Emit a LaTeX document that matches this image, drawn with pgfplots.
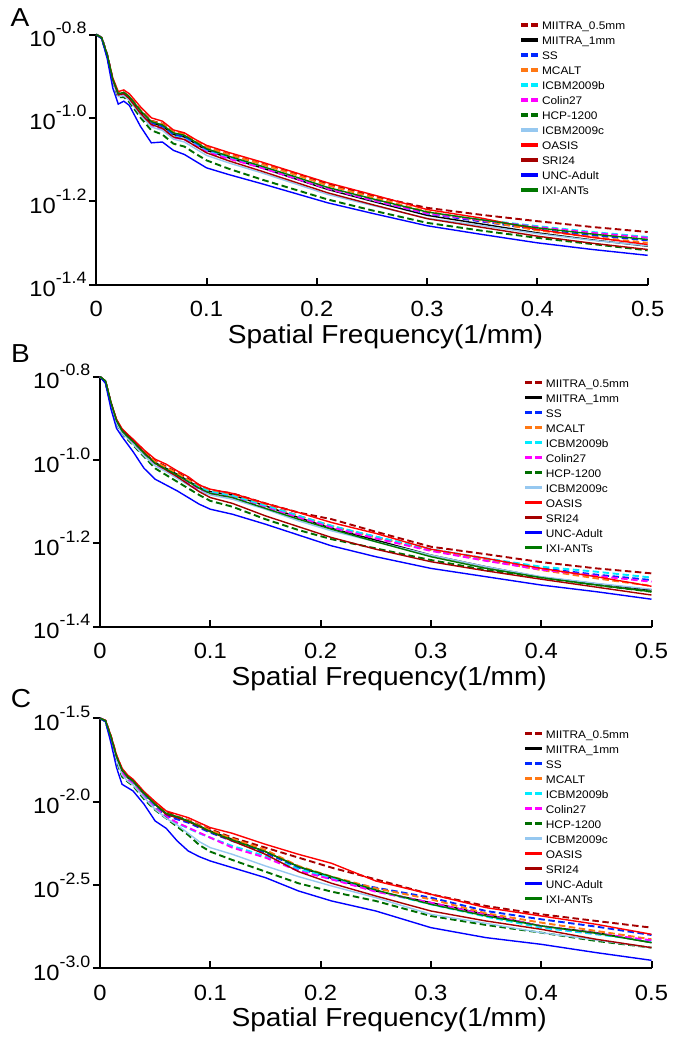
\documentclass[border=0pt]{standalone}
\usepackage{fontspec}
\setmainfont{Liberation Sans}[FakeStretch=1.08]
\usepackage{pgfplots}
\usepackage{pgfplotstable}
\pgfplotsset{compat=1.18}

\definecolor{cMa}{RGB}{165,0,0}
\definecolor{cSS}{RGB}{0,40,255}
\definecolor{cMC}{RGB}{255,120,20}
\definecolor{cCy}{RGB}{0,235,255}
\definecolor{cMg}{RGB}{255,0,255}
\definecolor{cHC}{RGB}{0,110,0}
\definecolor{cIc}{RGB}{150,200,240}
\definecolor{cOA}{RGB}{255,0,0}
\definecolor{cSR}{RGB}{165,0,0}
\definecolor{cUN}{RGB}{0,0,255}
\definecolor{cIX}{RGB}{0,120,0}

\newcommand{\tenp}[1]{10\raisebox{13pt}{\fontsize{16.5pt}{16.5pt}\selectfont #1}}

% columns: x, MIITRA_0.5mm, MIITRA_1mm, SS, MCALT, ICBM2009b, Colin27, HCP-1200, ICBM2009c, OASIS, SRI24, UNC-Adult, IXI-ANTs (log10 of the value)
\pgfplotstableread{
x     MA     M1     SS     MC     Cb     Co     HC     Ic     OA     SR     UN     IX
0     -0.800 -0.800 -0.800 -0.800 -0.800 -0.800 -0.800 -0.800 -0.800 -0.800 -0.800 -0.800
0.005 -0.808 -0.808 -0.808 -0.808 -0.808 -0.808 -0.808 -0.808 -0.808 -0.808 -0.810 -0.808
0.01  -0.850 -0.850 -0.850 -0.850 -0.850 -0.850 -0.852 -0.852 -0.848 -0.850 -0.858 -0.848
0.015 -0.909 -0.910 -0.910 -0.908 -0.910 -0.910 -0.914 -0.914 -0.904 -0.909 -0.928 -0.907
0.02  -0.942 -0.945 -0.945 -0.943 -0.947 -0.947 -0.951 -0.949 -0.937 -0.945 -0.967 -0.942
0.025 -0.939 -0.942 -0.942 -0.940 -0.945 -0.945 -0.950 -0.947 -0.933 -0.942 -0.960 -0.939
0.03  -0.949 -0.952 -0.952 -0.950 -0.955 -0.956 -0.962 -0.958 -0.942 -0.954 -0.970 -0.949
0.04  -0.981 -0.985 -0.985 -0.982 -0.989 -0.990 -0.999 -0.993 -0.973 -0.989 -1.020 -0.982
0.05  -1.007 -1.012 -1.012 -1.008 -1.017 -1.018 -1.030 -1.022 -1.000 -1.016 -1.060 -1.009
0.06  -1.014 -1.020 -1.020 -1.015 -1.025 -1.027 -1.040 -1.030 -1.008 -1.025 -1.058 -1.017
0.07  -1.034 -1.040 -1.040 -1.034 -1.045 -1.047 -1.062 -1.051 -1.029 -1.046 -1.078 -1.036
0.08  -1.039 -1.046 -1.045 -1.039 -1.050 -1.052 -1.069 -1.058 -1.036 -1.052 -1.088 -1.042
0.09  -1.055 -1.062 -1.061 -1.054 -1.065 -1.067 -1.086 -1.074 -1.052 -1.068 -1.104 -1.058
0.1   -1.070 -1.078 -1.076 -1.070 -1.080 -1.082 -1.102 -1.090 -1.066 -1.084 -1.120 -1.074
0.12  -1.087 -1.096 -1.094 -1.088 -1.096 -1.098 -1.122 -1.108 -1.083 -1.103 -1.136 -1.092
0.15  -1.110 -1.120 -1.118 -1.111 -1.119 -1.120 -1.148 -1.132 -1.106 -1.128 -1.158 -1.116
0.18  -1.134 -1.146 -1.144 -1.136 -1.144 -1.145 -1.172 -1.158 -1.131 -1.154 -1.181 -1.141
0.21  -1.159 -1.172 -1.169 -1.162 -1.169 -1.170 -1.196 -1.184 -1.156 -1.180 -1.204 -1.167
0.25  -1.187 -1.200 -1.197 -1.190 -1.197 -1.197 -1.222 -1.210 -1.184 -1.208 -1.229 -1.194
0.3   -1.216 -1.234 -1.230 -1.225 -1.229 -1.229 -1.252 -1.241 -1.220 -1.242 -1.259 -1.226
0.35  -1.233 -1.255 -1.249 -1.247 -1.245 -1.246 -1.271 -1.259 -1.241 -1.263 -1.280 -1.245
0.4   -1.248 -1.276 -1.268 -1.270 -1.260 -1.262 -1.288 -1.278 -1.268 -1.284 -1.300 -1.264
0.45  -1.262 -1.293 -1.282 -1.286 -1.274 -1.276 -1.303 -1.294 -1.287 -1.301 -1.316 -1.279
0.5   -1.274 -1.308 -1.294 -1.300 -1.286 -1.288 -1.318 -1.307 -1.304 -1.316 -1.330 -1.292
}\tA

\pgfplotstableread{
x     MA     M1     SS     MC     Cb     Co     HC     Ic     OA     SR     UN     IX
0     -0.800 -0.800 -0.800 -0.800 -0.800 -0.800 -0.800 -0.800 -0.800 -0.800 -0.800 -0.800
0.005 -0.812 -0.812 -0.812 -0.812 -0.812 -0.812 -0.812 -0.812 -0.812 -0.810 -0.816 -0.810
0.01  -0.866 -0.866 -0.866 -0.866 -0.866 -0.866 -0.868 -0.868 -0.862 -0.862 -0.878 -0.862
0.015 -0.906 -0.908 -0.908 -0.908 -0.908 -0.908 -0.912 -0.912 -0.902 -0.904 -0.924 -0.906
0.02  -0.928 -0.930 -0.931 -0.930 -0.932 -0.932 -0.936 -0.936 -0.925 -0.928 -0.944 -0.930
0.025 -0.940 -0.942 -0.944 -0.942 -0.945 -0.946 -0.950 -0.948 -0.938 -0.940 -0.962 -0.944
0.03  -0.952 -0.955 -0.957 -0.955 -0.958 -0.960 -0.964 -0.962 -0.950 -0.954 -0.980 -0.956
0.04  -0.978 -0.982 -0.984 -0.981 -0.986 -0.988 -0.992 -0.990 -0.976 -0.982 -1.020 -0.984
0.05  -1.002 -1.006 -1.008 -1.004 -1.010 -1.012 -1.020 -1.014 -0.998 -1.008 -1.046 -1.008
0.06  -1.016 -1.020 -1.022 -1.018 -1.024 -1.026 -1.036 -1.028 -1.010 -1.024 -1.060 -1.022
0.07  -1.030 -1.034 -1.036 -1.032 -1.038 -1.040 -1.052 -1.044 -1.026 -1.040 -1.074 -1.036
0.08  -1.045 -1.050 -1.050 -1.048 -1.052 -1.056 -1.068 -1.060 -1.040 -1.058 -1.090 -1.052
0.09  -1.060 -1.066 -1.064 -1.064 -1.066 -1.070 -1.084 -1.074 -1.060 -1.076 -1.106 -1.068
0.1   -1.072 -1.076 -1.074 -1.074 -1.076 -1.080 -1.098 -1.084 -1.070 -1.090 -1.118 -1.080
0.12  -1.080 -1.084 -1.084 -1.084 -1.086 -1.090 -1.112 -1.094 -1.080 -1.104 -1.130 -1.090
0.15  -1.104 -1.110 -1.108 -1.108 -1.110 -1.114 -1.142 -1.118 -1.104 -1.134 -1.154 -1.116
0.18  -1.126 -1.138 -1.134 -1.134 -1.134 -1.138 -1.168 -1.146 -1.126 -1.160 -1.180 -1.142
0.21  -1.142 -1.164 -1.160 -1.158 -1.158 -1.162 -1.190 -1.170 -1.150 -1.186 -1.206 -1.166
0.25  -1.172 -1.192 -1.184 -1.186 -1.184 -1.188 -1.212 -1.196 -1.176 -1.214 -1.232 -1.196
0.3   -1.208 -1.228 -1.216 -1.216 -1.214 -1.218 -1.240 -1.228 -1.214 -1.244 -1.260 -1.232
0.35  -1.226 -1.256 -1.240 -1.240 -1.236 -1.242 -1.264 -1.256 -1.236 -1.266 -1.280 -1.260
0.4   -1.245 -1.281 -1.260 -1.264 -1.256 -1.263 -1.282 -1.280 -1.260 -1.286 -1.300 -1.282
0.45  -1.260 -1.297 -1.275 -1.284 -1.268 -1.278 -1.300 -1.296 -1.280 -1.305 -1.316 -1.300
0.5   -1.272 -1.312 -1.288 -1.302 -1.282 -1.292 -1.316 -1.310 -1.303 -1.324 -1.334 -1.316
}\tB

\pgfplotstableread{
x     MA     M1     SS     MC     Cb     Co     HC     Ic     OA     SR     UN     IX
0     -1.500 -1.500 -1.500 -1.500 -1.500 -1.500 -1.500 -1.500 -1.500 -1.500 -1.500 -1.500
0.005 -1.516 -1.516 -1.516 -1.516 -1.516 -1.516 -1.518 -1.518 -1.512 -1.514 -1.520 -1.514
0.01  -1.610 -1.616 -1.616 -1.612 -1.620 -1.620 -1.626 -1.624 -1.606 -1.612 -1.650 -1.612
0.015 -1.726 -1.736 -1.736 -1.730 -1.744 -1.744 -1.756 -1.750 -1.720 -1.730 -1.796 -1.730
0.02  -1.806 -1.816 -1.816 -1.810 -1.830 -1.830 -1.850 -1.840 -1.800 -1.810 -1.896 -1.810
0.025 -1.846 -1.856 -1.856 -1.850 -1.870 -1.870 -1.880 -1.876 -1.840 -1.850 -1.916 -1.850
0.03  -1.870 -1.880 -1.885 -1.876 -1.896 -1.896 -1.905 -1.900 -1.866 -1.876 -1.936 -1.876
0.04  -1.946 -1.956 -1.960 -1.950 -1.970 -1.972 -1.985 -1.976 -1.940 -1.950 -2.016 -1.950
0.05  -2.006 -2.016 -2.030 -2.012 -2.036 -2.040 -2.050 -2.046 -2.000 -2.016 -2.116 -2.016
0.06  -2.060 -2.076 -2.086 -2.070 -2.096 -2.090 -2.100 -2.100 -2.056 -2.076 -2.160 -2.070
0.07  -2.090 -2.096 -2.106 -2.092 -2.130 -2.126 -2.150 -2.140 -2.076 -2.096 -2.236 -2.090
0.08  -2.110 -2.116 -2.126 -2.112 -2.160 -2.156 -2.200 -2.190 -2.096 -2.120 -2.296 -2.116
0.09  -2.140 -2.146 -2.156 -2.142 -2.190 -2.186 -2.260 -2.240 -2.126 -2.150 -2.330 -2.146
0.1   -2.166 -2.176 -2.186 -2.172 -2.216 -2.216 -2.300 -2.276 -2.156 -2.180 -2.356 -2.180
0.12  -2.216 -2.226 -2.236 -2.222 -2.266 -2.276 -2.350 -2.316 -2.190 -2.236 -2.396 -2.230
0.15  -2.276 -2.300 -2.306 -2.290 -2.326 -2.336 -2.420 -2.386 -2.256 -2.316 -2.456 -2.300
0.18  -2.336 -2.390 -2.396 -2.386 -2.406 -2.416 -2.490 -2.450 -2.316 -2.420 -2.536 -2.390
0.21  -2.396 -2.460 -2.466 -2.450 -2.456 -2.466 -2.540 -2.506 -2.370 -2.490 -2.596 -2.450
0.25  -2.466 -2.536 -2.516 -2.520 -2.536 -2.540 -2.596 -2.576 -2.476 -2.566 -2.656 -2.530
0.3   -2.556 -2.606 -2.576 -2.586 -2.616 -2.606 -2.686 -2.676 -2.556 -2.656 -2.756 -2.616
0.35  -2.626 -2.676 -2.656 -2.670 -2.690 -2.680 -2.740 -2.730 -2.636 -2.716 -2.816 -2.686
0.4   -2.676 -2.746 -2.706 -2.726 -2.756 -2.746 -2.786 -2.786 -2.686 -2.766 -2.856 -2.746
0.45  -2.716 -2.786 -2.750 -2.776 -2.796 -2.790 -2.836 -2.830 -2.736 -2.826 -2.906 -2.790
0.5   -2.756 -2.846 -2.800 -2.826 -2.836 -2.832 -2.876 -2.876 -2.796 -2.876 -2.952 -2.846
}\tC

\tikzset{letter/.style={font=\fontsize{26pt}{26pt}\selectfont, anchor=center}}

\pgfplotsset{
  dsh/.style={line width=1.9pt, dash pattern=on 6.5pt off 3.5pt},
  sld/.style={line width=1.4pt},
  panel/.style={
    scale only axis, width=551.5pt, height=250pt,
    xmin=0, xmax=0.5, clip=false,
    axis x line*=bottom, axis y line*=left,
    xtick={0,0.1,0.2,0.3,0.4,0.5},
    xticklabels={0,0.1,0.2,0.3,0.4,0.5},
    xtick align=inside, ytick align=outside,
    major tick length=7pt,
    axis line style={line width=2pt},
    major tick style={line width=2pt, black},
    tick label style={font=\fontsize{22pt}{22pt}\selectfont},
    xticklabel style={anchor=base, yshift=-32pt},
    yticklabel style={inner sep=2.5pt},
    xlabel={Spatial Frequency(1/mm)},
    xlabel style={font=\fontsize{26pt}{26pt}\selectfont, at={(axis description cs:0.5245,0)}, anchor=base, yshift=-58.5pt},
    legend cell align=left,
    legend style={draw=none, fill=none, inner sep=0pt, outer sep=0pt, anchor=north west,
      font=\fontsize{11pt}{11pt}\selectfont, row sep=0pt, column sep=2pt,
      nodes={inner sep=0pt, text height=8.5pt, text depth=6.5pt}},
    legend image code/.code={\draw[##1, line width=3.3pt] (0pt,3.5pt) -- (17pt,3.5pt);},
  },
}

\newcommand{\plotall}[1]{%
  \addplot[cMa, dsh] table[x=x, y=MA] {#1}; \addlegendentry{MIITRA\_0.5mm}
  \addplot[black, sld] table[x=x, y=M1] {#1}; \addlegendentry{MIITRA\_1mm}
  \addplot[cSS, dsh] table[x=x, y=SS] {#1}; \addlegendentry{SS}
  \addplot[cMC, dsh] table[x=x, y=MC] {#1}; \addlegendentry{MCALT}
  \addplot[cCy, dsh] table[x=x, y=Cb] {#1}; \addlegendentry{ICBM2009b}
  \addplot[cMg, dsh] table[x=x, y=Co] {#1}; \addlegendentry{Colin27}
  \addplot[cHC, dsh] table[x=x, y=HC] {#1}; \addlegendentry{HCP-1200}
  \addplot[cIc, sld] table[x=x, y=Ic] {#1}; \addlegendentry{ICBM2009c}
  \addplot[cOA, sld] table[x=x, y=OA] {#1}; \addlegendentry{OASIS}
  \addplot[cSR, sld] table[x=x, y=SR] {#1}; \addlegendentry{SRI24}
  \addplot[cUN, sld] table[x=x, y=UN] {#1}; \addlegendentry{UNC-Adult}
  \addplot[cIX, sld] table[x=x, y=IX] {#1}; \addlegendentry{IXI-ANTs}
}

\begin{document}
\begin{tikzpicture}
\path[use as bounding box] (0pt,0pt) rectangle (682pt,-1050pt);

% Panel A
\begin{axis}[panel, at={(96.2pt,-284.5pt)}, anchor=south west,
  ymin=-1.4, ymax=-0.8, ytick={-1.4,-1.2,-1.0,-0.8},
  yticklabels={\tenp{-1.4},\tenp{-1.2},\tenp{-1.0},\tenp{-0.8}},
  legend style={at={(axis description cs:0.768,1.0536)}}]
\plotall{\tA}
\node[letter] at (axis description cs:-0.138,1.066) {A};
\end{axis}

% Panel B
\begin{axis}[panel, at={(100pt,-626.7pt)}, anchor=south west,
  ymin=-1.4, ymax=-0.8, ytick={-1.4,-1.2,-1.0,-0.8},
  yticklabels={\tenp{-1.4},\tenp{-1.2},\tenp{-1.0},\tenp{-0.8}},
  legend style={at={(axis description cs:0.768,0.992)}}]
\plotall{\tB}
\node[letter] at (axis description cs:-0.144,1.091) {B};
\end{axis}

% Panel C
\begin{axis}[panel, at={(100pt,-968.3pt)}, anchor=south west,
  ymin=-3.0, ymax=-1.5, ytick={-3.0,-2.5,-2.0,-1.5},
  yticklabels={\tenp{-3.0},\tenp{-2.5},\tenp{-2.0},\tenp{-1.5}},
  legend style={at={(axis description cs:0.768,0.954)}}]
\plotall{\tC}
\node[letter] at (axis description cs:-0.143,1.081) {C};
\end{axis}
\end{tikzpicture}
\end{document}
